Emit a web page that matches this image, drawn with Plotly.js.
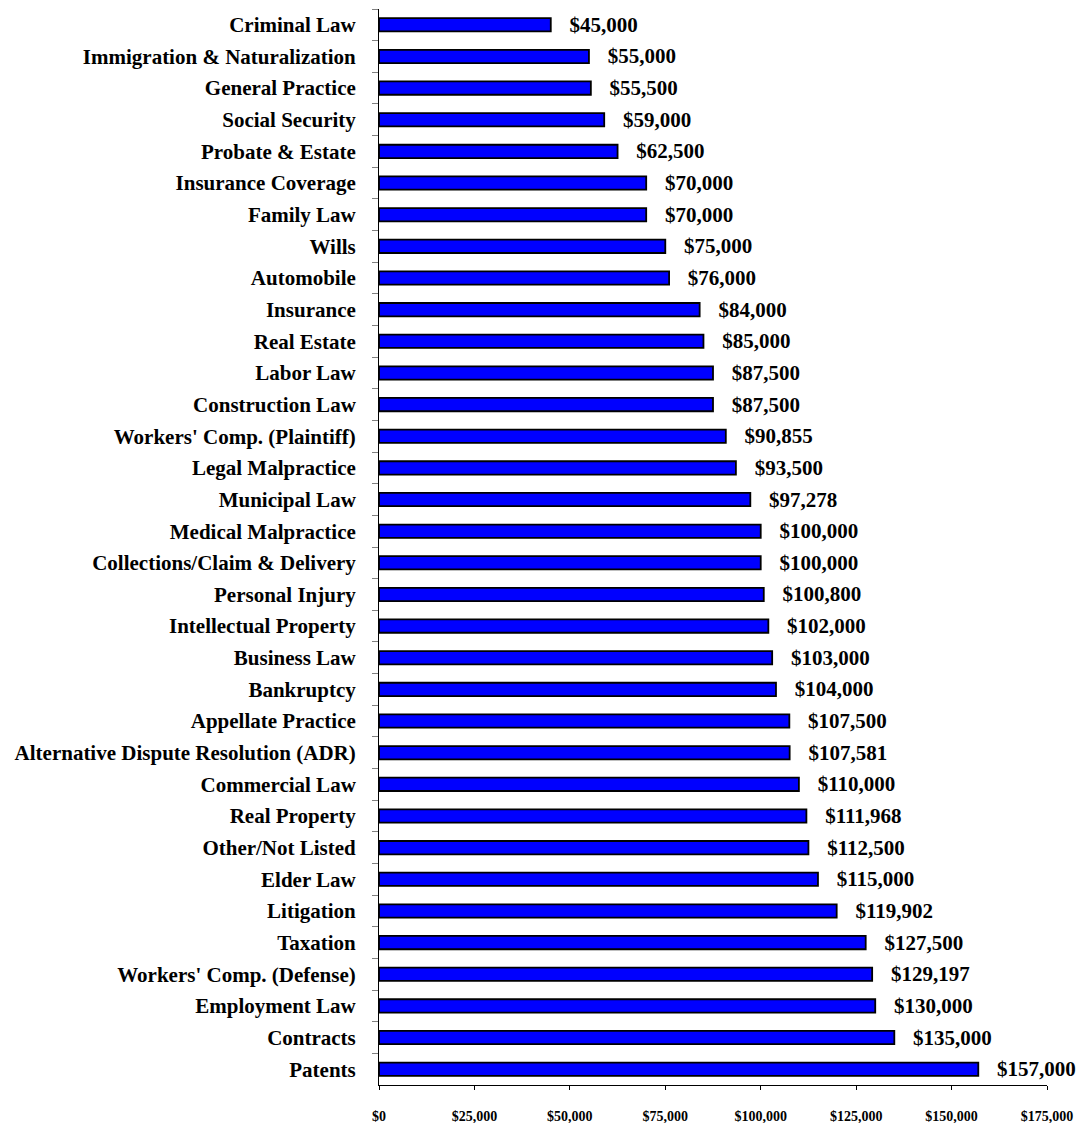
<!DOCTYPE html>
<html>
<head>
<meta charset="utf-8">
<script src="https://cdn.plot.ly/plotly-3.0.1.min.js"></script>
<style>html,body{margin:0;padding:0;background:#fff;}#chart{width:1078px;height:1123px;}</style>
</head>
<body>
<div id="chart"></div>
<script>
const categories = [
  "Criminal Law", "Immigration & Naturalization", "General Practice", "Social Security",
  "Probate & Estate", "Insurance Coverage", "Family Law", "Wills", "Automobile",
  "Insurance", "Real Estate", "Labor Law", "Construction Law", "Workers' Comp. (Plaintiff)",
  "Legal Malpractice", "Municipal Law", "Medical Malpractice", "Collections/Claim & Delivery",
  "Personal Injury", "Intellectual Property", "Business Law", "Bankruptcy",
  "Appellate Practice", "Alternative Dispute Resolution (ADR)", "Commercial Law",
  "Real Property", "Other/Not Listed", "Elder Law", "Litigation", "Taxation",
  "Workers' Comp. (Defense)", "Employment Law", "Contracts", "Patents"
];
const salaries = [
  45000, 55000, 55500, 59000, 62500, 70000, 70000, 75000, 76000,
  84000, 85000, 87500, 87500, 90855, 93500, 97278, 100000, 100000,
  100800, 102000, 103000, 104000, 107500, 107581, 110000, 111968,
  112500, 115000, 119902, 127500, 129197, 130000, 135000, 157000
];
const tickValues = [0, 25000, 50000, 75000, 100000, 125000, 150000, 175000];
const tickLabels = ["$0", "$25,000", "$50,000", "$75,000", "$100,000", "$125,000", "$150,000", "$175,000"];

const fmt = v => "$" + v.toLocaleString("en-US");
const FONT = "'Liberation Serif', 'Times New Roman', serif";

const trace = {
  type: "bar",
  orientation: "h",
  y: categories,
  x: salaries,
  width: 0.42,
  marker: { color: "#0000FF", line: { color: "#000000", width: 1.8 } },
  text: salaries.map(v => "\u00a0\u00a0\u00a0" + fmt(v)),
  textposition: "outside",
  constraintext: "none",
  cliponaxis: false,
  textfont: { family: FONT, size: 21, color: "#000000", weight: "bold" },
  hoverinfo: "none"
};

const layout = {
  width: 1078,
  height: 1123,
  margin: { l: 379, r: 31, t: 9, b: 38 },
  paper_bgcolor: "#ffffff",
  plot_bgcolor: "#ffffff",
  showlegend: false,
  bargap: 0.58,
  xaxis: {
    range: [0, 175000],
    tickvals: tickValues,
    ticktext: tickLabels,
    showgrid: false,
    zeroline: false,
    showline: true,
    linecolor: "#000000",
    linewidth: 1,
    ticks: "outside",
    ticklen: 4,
    tickcolor: "#000000",
    ticklabelstandoff: 14,
    tickfont: { family: FONT, size: 14, color: "#000000", weight: "bold" },
    fixedrange: true
  },
  yaxis: {
    type: "category",
    categoryorder: "array",
    categoryarray: categories,
    autorange: "reversed",
    showgrid: false,
    zeroline: false,
    showline: true,
    linecolor: "#000000",
    linewidth: 1,
    ticks: "outside",
    tickson: "boundaries",
    ticklen: 6,
    tickcolor: "#808080",
    ticklabelstandoff: 18,
    tickfont: { family: FONT, size: 21, color: "#000000", weight: "bold" },
    fixedrange: true
  }
};

Plotly.newPlot("chart", [trace], layout, { staticPlot: true, displayModeBar: false });
</script>
</body>
</html>
